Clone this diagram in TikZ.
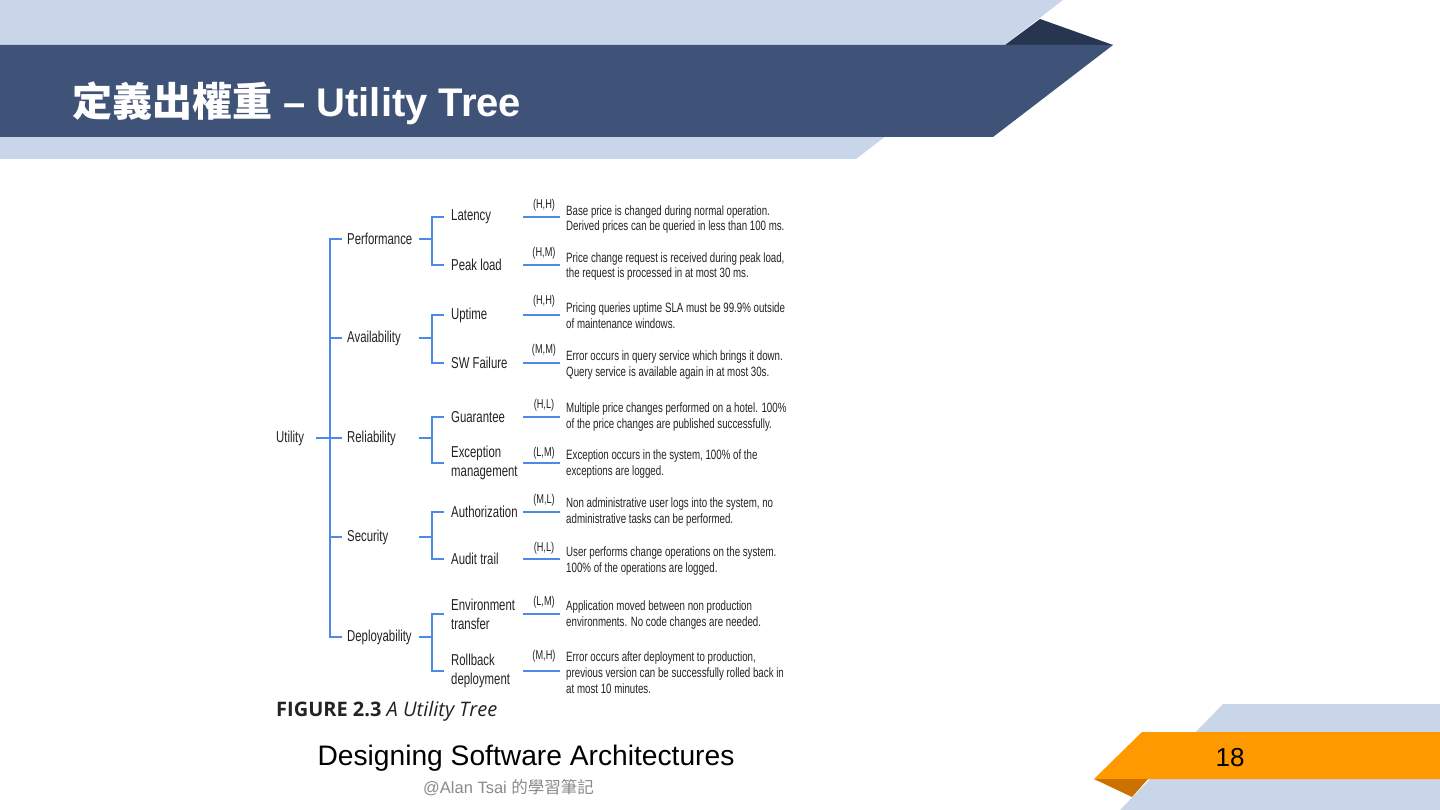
\documentclass[tikz,border=0pt]{standalone}
\usepackage{fontspec}
\setmainfont{Liberation Sans}
\newfontfamily\cjk{Noto Sans CJK TC}
\newfontfamily\narrowsf[FakeStretch=0.72]{Liberation Sans}
\newfontfamily\capfont{Open Sans}
\usetikzlibrary{positioning,calc}
\definecolor{hdrlight}{RGB}{201,213,233}
\definecolor{hdrdark}{RGB}{63,83,120}
\definecolor{hdrshade}{RGB}{40,53,80}
\definecolor{pgorange}{RGB}{255,153,0}
\definecolor{pgshade}{RGB}{204,112,0}
\definecolor{treeblue}{RGB}{77,137,230}
\definecolor{treetext}{RGB}{35,35,35}
\definecolor{notegray}{RGB}{138,138,138}

\begin{document}
\begin{tikzpicture}[x=1pt,y=1pt, every node/.style={inner sep=0pt}]
\tikzstyle{tree}=[draw=treeblue, line width=1.8pt]
\tikzstyle{lbl}=[font=\narrowsf\fontsize{15.8}{19}\selectfont, text=treetext, anchor=west, align=left]
\tikzstyle{prio}=[font=\narrowsf\fontsize{12.8}{15}\selectfont, text=treetext, anchor=base]
\tikzstyle{desc}=[font=\narrowsf\fontsize{13.5}{15.8}\selectfont, text=treetext, anchor=base west, align=left]

% page and bands
\useasboundingbox (0,0) rectangle (1440,-810);
\fill[white] (0,0) rectangle (1440,-810);
\fill[hdrlight] (0,0) -- (1063,0) -- (856,-159) -- (0,-159) -- cycle;
\fill[hdrshade] (1040,-19) -- (1113,-45) -- (1005,-45) -- cycle;
\fill[hdrdark] (0,-45) -- (1113,-45) -- (993,-137) -- (0,-137) -- cycle;
\fill[hdrlight] (1223,-704) -- (1440,-704) -- (1440,-810) -- (1120,-810) -- cycle;
\fill[pgorange] (1142,-732) -- (1440,-732) -- (1440,-779) -- (1094,-779) -- cycle;
\fill[pgshade] (1094,-779) -- (1148,-779) -- (1132,-797) -- cycle;

\node[anchor=base west, text=white, font=\bfseries\fontsize{40}{48}\selectfont] (title) at (72,-117) {{\cjk 定義出權重} – Utility Tree};
\node[anchor=base, font=\fontsize{28.2}{32}\selectfont] (book) at (526,-765) {Designing Software Architectures};
\node[anchor=base west, text=notegray, font=\fontsize{16.5}{20}\selectfont] (note) at (423,-793) {@Alan Tsai {\cjk 的學習筆記}};
\node[anchor=base, font=\fontsize{26}{30}\selectfont] (page) at (1230,-766) {18};

% utility tree
\node[lbl] (util) at (276,-438) {Utility};
\node[lbl] (perf) at (347,-239) {Performance};
\node[lbl] (avail) at (347,-338) {Availability};
\node[lbl] (reli) at (347,-438) {Reliability};
\node[lbl] (secu) at (347,-537) {Security};
\node[lbl] (depl) at (347,-637) {Deployability};

\node[lbl] (lat) at (451,-217) {Latency};
\node[lbl] (peak) at (451,-265) {Peak load};
\node[lbl] (upt) at (451,-315) {Uptime};
\node[lbl] (swf) at (451,-363) {SW Failure};
\node[lbl] (guar) at (451,-417) {Guarantee};
\node[lbl] (exc) at (451,-463) {Exception\\management};
\node[lbl] (auth) at (451,-512) {Authorization};
\node[lbl] (aud) at (451,-559) {Audit trail};
\node[lbl] (env) at (451,-614) {Environment\\transfer};
\node[lbl] (roll) at (451,-671) {Rollback\\deployment};

\node[prio] (p1) at (544,-209) {(H,H)};
\node[prio] (p2) at (544,-257) {(H,M)};
\node[prio] (p3) at (544,-305) {(H,H)};
\node[prio] (p4) at (544,-353) {(M,M)};
\node[prio] (p5) at (544,-408) {(H,L)};
\node[prio] (p6) at (544,-456) {(L,M)};
\node[prio] (p7) at (544,-503) {(M,L)};
\node[prio] (p8) at (544,-551) {(H,L)};
\node[prio] (p9) at (544,-605) {(L,M)};
\node[prio] (p10) at (544,-659) {(M,H)};

% base of a multi-line node is its last line
\node[desc] (d1) at (566,-231) {Base price is changed during normal operation.\\Derived prices can be queried in less than 100 ms.};
\node[desc] (d2) at (566,-278) {Price change request is received during peak load,\\the request is processed in at most 30 ms.};
\node[desc] (d3) at (566,-328) {Pricing queries uptime SLA must be 99.9\% outside\\of maintenance windows.};
\node[desc] (d4) at (566,-376) {Error occurs in query service which brings it down.\\Query service is available again in at most 30s.};
\node[desc] (d5) at (566,-428) {Multiple price changes performed on a hotel. 100\%\\of the price changes are published successfully.};
\node[desc] (d6) at (566,-475) {Exception occurs in the system, 100\% of the\\exceptions are logged.};
\node[desc] (d7) at (566,-523) {Non administrative user logs into the system, no\\administrative tasks can be performed.};
\node[desc] (d8) at (566,-572) {User performs change operations on the system.\\100\% of the operations are logged.};
\node[desc] (d9) at (566,-626) {Application moved between non production\\environments. No code changes are needed.};
\node[desc] (d10) at (566,-693) {Error occurs after deployment to production,\\previous version can be successfully rolled back in\\at most 10 minutes.};

\draw[tree] ([xshift=-5pt]perf.west) -- ++(-12,0) |- ([xshift=-5pt]depl.west);
\draw[tree] ([xshift=-5pt]avail.west) -- ++(-12,0) ([xshift=-5pt]secu.west) -- ++(-12,0);
\draw[tree] ([xshift=12pt]util.east) -- ([xshift=-5pt]reli.west);
\foreach \n in {perf,avail,reli,secu,depl} \draw[tree] ([xshift=72pt]\n.west) -- ++(13,0);
\draw[tree] ([xshift=-7pt]lat.west) -- ++(-12,0) |- ([xshift=-7pt]peak.west);
\draw[tree] ([xshift=-7pt]upt.west) -- ++(-12,0) |- ([xshift=-7pt]swf.west);
\draw[tree] ([xshift=-7pt]guar.west) -- ++(-12,0) |- ([xshift=-7pt]exc.west);
\draw[tree] ([xshift=-7pt]auth.west) -- ++(-12,0) |- ([xshift=-7pt]aud.west);
\draw[tree] ([xshift=-7pt]env.west) -- ++(-12,0) |- ([xshift=-7pt]roll.west);
\foreach \n in {lat,peak,upt,swf,guar,exc,auth,aud,env,roll} \draw[tree] (\n.west) ++(72,0) -- ++(37,0);

\node[anchor=base west, text=treetext, font=\capfont\fontsize{20}{24}\selectfont] (cap) at (276,-716) {\textbf{FIGURE 2.3} \textit{A Utility Tree}};
\end{tikzpicture}
\end{document}
